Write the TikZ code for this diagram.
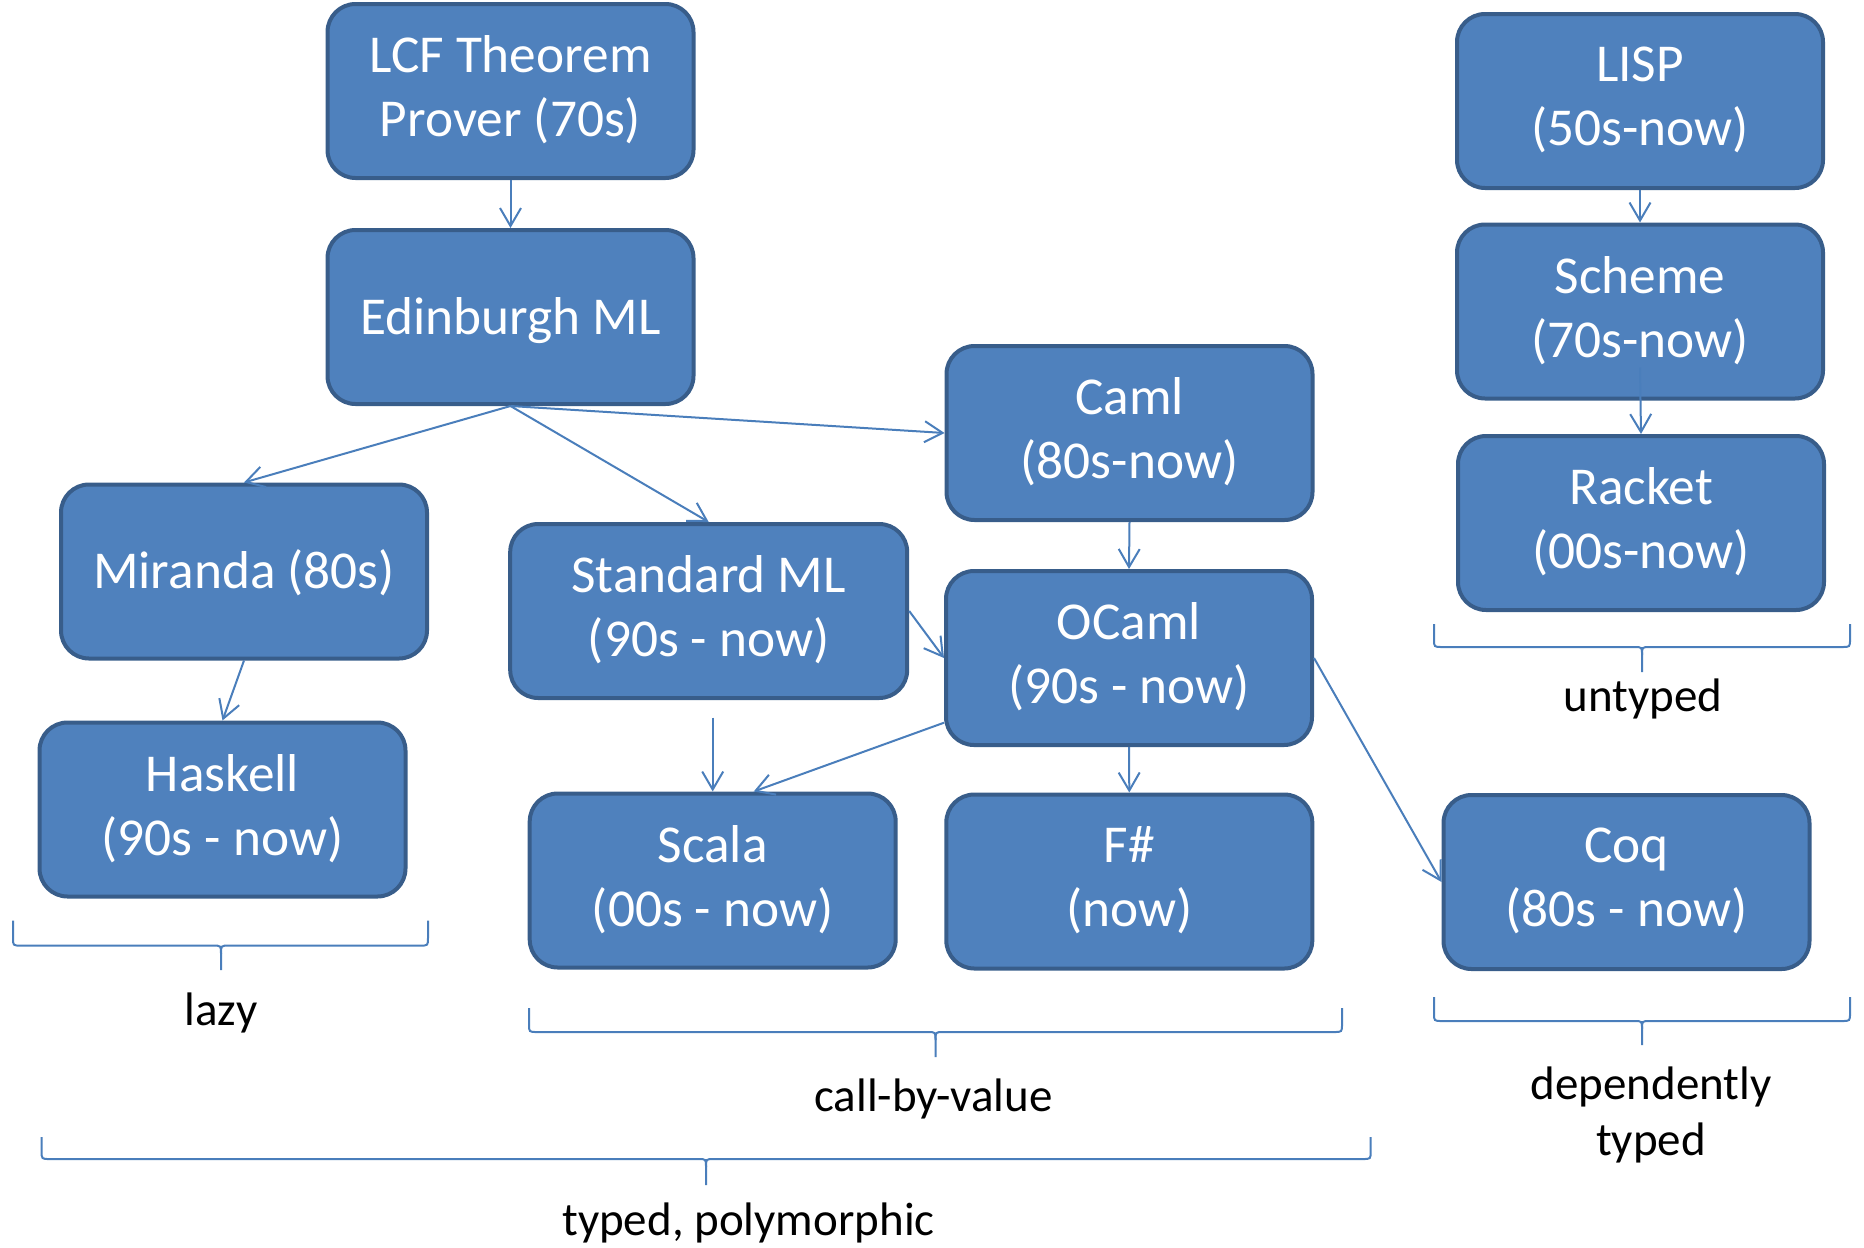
\documentclass[tikz,border=0pt]{standalone}
\usepackage{fontspec}
\setmainfont{Carlito}
\usetikzlibrary{arrows.meta,calc}
\definecolor{boxfill}{HTML}{4F81BD}
\definecolor{boxline}{HTML}{385D8A}
\definecolor{arrowc}{HTML}{4A7EBB}
\newcommand\boxstrut{\rule[-10pt]{0pt}{54pt}}
\newcommand\OBrace[6]{%
 \draw[bracestyle] (#1,#4) -- (#1,#5-8) .. controls (#1,#5) .. (#1+8,#5) -- (#2-8,#5) .. controls (#2,#5) .. (#2,#5+8) -- (#2,#6);
 \draw[bracestyle] (#3,#4) -- (#3,#5-8) .. controls (#3,#5) .. (#3-8,#5) -- (#2+8,#5) .. controls (#2,#5) .. (#2,#5+8);
}
\tikzset{
 box/.style={draw=boxline, line width=4pt, fill=boxfill, rounded corners=28pt,
   minimum width=366pt, minimum height=174pt, inner sep=0pt, align=center,
   text=white, font=\fontsize{53.3}{64}\selectfont,
   execute at begin node=\boxstrut, execute at end node=\boxstrut},
 conn/.style={draw=arrowc, line width=2pt, -{Straight Barb[length=18pt,width=21pt]}},
 bracestyle/.style={draw=arrowc, line width=2pt},
 lbl/.style={font=\fontsize{47}{55.4}\selectfont, text=black, inner sep=0pt, align=center},
}
\begin{document}
\begin{tikzpicture}[x=1pt,y=-1pt]
\useasboundingbox (0,0) rectangle (1864,1248);
% boxes
\node[box] (lcf) at (510.5,91) {LCF Theorem\\Prover (70s)};
\node[box] (edin) at (510.5,317) {Edinburgh ML};
\node[box] (caml) at (1129.5,433) {Caml\\(80s-now)};
\node[box] (miranda) at (244,571.5) {Miranda (80s)};
\node[box, minimum width=397pt] (sml) at (708.7,611) {Standard ML\\(90s - now)};
\node[box] (ocaml) at (1129,658) {OCaml\\(90s - now)};
\node[box] (haskell) at (222.5,809.5) {Haskell\\(90s - now)};
\node[box] (scala) at (712.7,880.5) {Scala\\(00s - now)};
\node[box] (fsharp) at (1129.3,881.5) {F\#\\(now)};
\node[box] (coq) at (1626.5,882) {Coq\\(80s - now)};
\node[box] (lisp) at (1640,101) {LISP\\(50s-now)};
\node[box] (scheme) at (1640,311.5) {Scheme\\(70s-now)};
\node[box] (racket) at (1641,523) {Racket\\(00s-now)};
% helper coordinates
\coordinate (smlout) at ($(sml.south -| scala.north)+(0,17.5)$);
\coordinate (ocamlout) at ($(ocaml.west)+(0,64.7)$);
\coordinate (scalain) at ($(scala.north)+(41,0)$);
\coordinate (schemeout) at ($(scheme.south)+(0,-33)$);
% connectors
\draw[conn] (lcf.south) -- (edin.north);
\draw[conn] (edin.south) -- (miranda.north);
\draw[conn] (edin.south) -- (sml.north);
\draw[conn] (edin.south) -- (caml.west);
\draw[conn] (miranda.south) -- (haskell.north);
\draw[conn] (caml.south) -- (ocaml.north);
\draw[conn] (sml.east) -- (ocaml.west);
\draw[conn] (smlout) -- (scala.north);
\draw[conn] (ocamlout) -- (scalain);
\draw[conn] (ocaml.south) -- (fsharp.north);
\draw[conn] (ocaml.east) -- (coq.west);
\draw[conn] (lisp.south) -- (scheme.north);
\draw[conn] (schemeout) -- (racket.north);
% braces
\OBrace{13}{221}{428}{920.5}{945.6}{970}
\OBrace{529}{935.5}{1342}{1008}{1032}{1057}
\OBrace{41.6}{706}{1370.7}{1137}{1159}{1185}
\OBrace{1434}{1642}{1850}{624}{647}{672}
\OBrace{1434}{1642}{1850}{997}{1021}{1045}
% labels
\node[lbl, anchor=base] (lazy) at (221,1025) {lazy};
\node[lbl, anchor=base] (cbv) at (933.5,1111.5) {call-by-value};
\node[lbl, anchor=base] (typed) at (748.5,1235) {typed, polymorphic};
\node[lbl, anchor=base] (untyped) at (1643,711.7) {untyped};
\node[lbl, anchor=base] (dep) at (1651,1155) {dependently\\typed};
\end{tikzpicture}
\end{document}
